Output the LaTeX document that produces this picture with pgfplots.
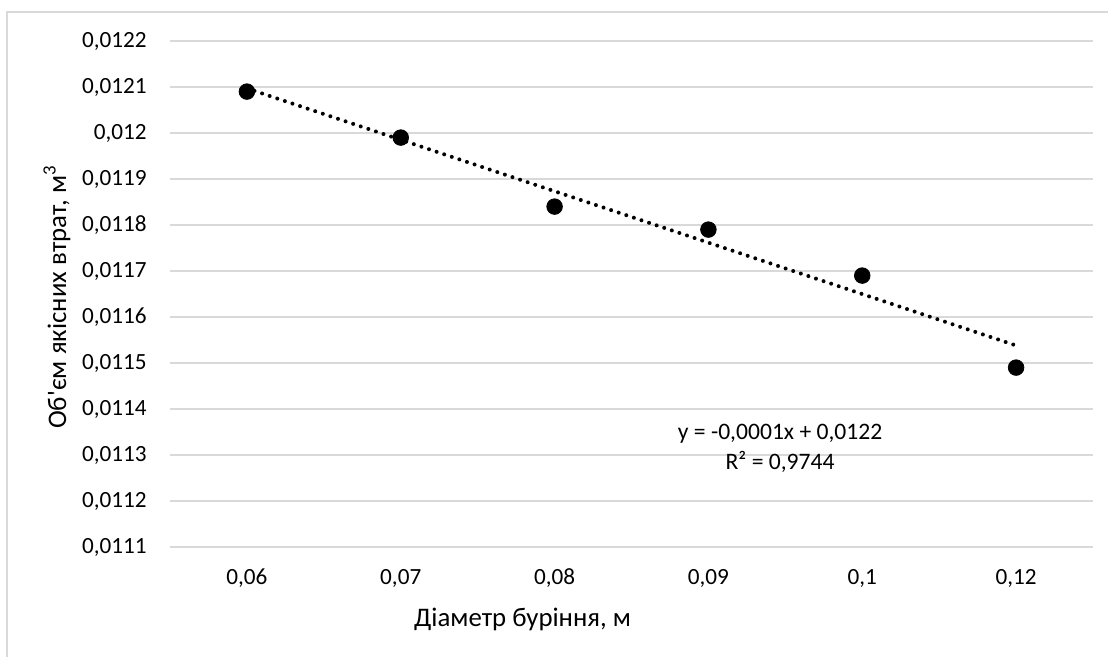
\documentclass[border=0pt]{standalone}
\usepackage{fontspec}
\setmainfont{Carlito}
\newfontfamily\plainfont{Carlito}
\usepackage{pgfplots}
\pgfplotsset{compat=1.18}
\definecolor{gridgray}{HTML}{D9D9D9}

\begin{document}
\begin{tikzpicture}
\useasboundingbox (-85pt,-55pt) rectangle (469pt,273.5pt);
% chart frame (partly cropped in the reference)
\draw[gridgray, line width=1pt] (-81.5pt,-56pt) -- (-81.5pt,267.5pt) -- (470pt,267.5pt);
\begin{axis}[
  scale only axis,
  width=461.5pt, height=253pt,
  xmin=-0.5, xmax=5.5,
  ymin=0.0111, ymax=0.0122,
  xtick={0,1,2,3,4,5},
  xticklabels={{0,06},{0,07},{0,08},{0,09},{0,1},{0,12}},
  ytick={0.0111,0.0112,0.0113,0.0114,0.0115,0.0116,0.0117,0.0118,0.0119,0.012,0.0121,0.0122},
  scaled y ticks=false,
  yticklabel style={/pgf/number format/use comma, /pgf/number format/fixed,
    /pgf/number format/precision=4, /pgf/number format/assume math mode=true},
  tick label style={font=\fontsize{11.6}{14}\selectfont},
  yticklabel style={anchor=east, inner sep=0pt, xshift=-11.5pt},
  xticklabel style={anchor=center, inner sep=0pt, yshift=-15.5pt},
  major tick length=0pt,
  axis line style={draw=none},
  ymajorgrids,
  grid style={draw=gridgray, line width=1pt},
  label style={font=\fontsize{13.4}{16}\selectfont},
  xlabel={Діаметр буріння, м},
  xlabel style={at={(axis description cs:0.382,-0.144)}, anchor=center},
  ylabel={Об{\plainfont '}єм якісних втрат, м\textsuperscript{3}},
  ylabel style={at={(axis description cs:-0.1224,0.494)}, anchor=center},
  clip=false,
]
% trendline (linear fit over category index)
\addplot[black, line width=2pt, line cap=round, dash pattern=on 0pt off 4pt]
  coordinates {(0,0.012097) (5,0.011538)};
% measured points
\addplot[only marks, mark=*, mark size=3.9pt, black]
  coordinates {(0,0.01209) (1,0.01199) (2,0.01184) (3,0.01179) (4,0.01169) (5,0.01149)};
\node[align=center, inner sep=0pt, font=\fontsize{11.8}{15}\selectfont]
  at (axis cs:3.466,0.011315) {y = -0,0001x + 0,0122\\R² = 0,9744};
\end{axis}
\end{tikzpicture}
\end{document}
